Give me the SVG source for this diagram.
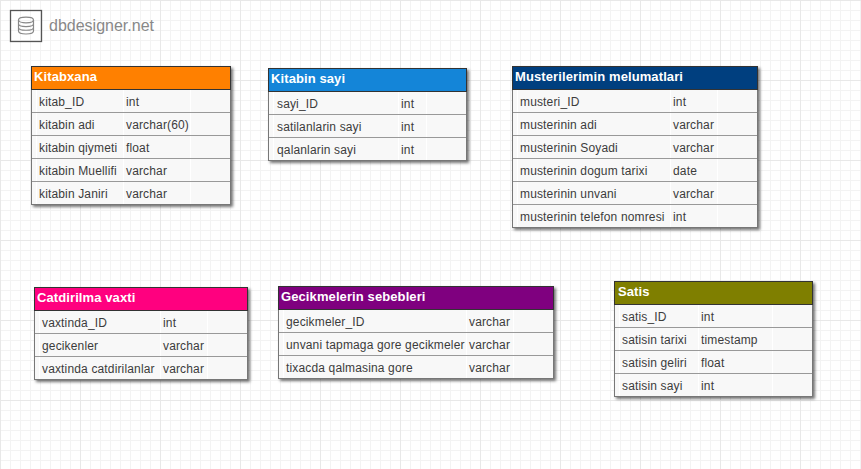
<svg xmlns="http://www.w3.org/2000/svg" width="861" height="469" viewBox="0 0 861 469">
<style>
.t{fill:#f8f8f8;stroke:#777;stroke-width:1;filter:url(#s)}
.h{stroke:#333;stroke-width:1}
.r{stroke:#999;stroke-width:1;fill:none}
.v{stroke:#fff;stroke-width:1;fill:none}
.n{font:bold 13px "Liberation Sans",Arial,sans-serif;fill:#fff;letter-spacing:.1px}
.c{font:12px "Liberation Sans",Arial,sans-serif;fill:#3c3c3c;letter-spacing:.15px}
</style>
<defs>
<pattern id="g1" width="10" height="10" patternUnits="userSpaceOnUse"><path d="M0.5 0V10M0 0.5H10" fill="none" stroke="#f3f3f3"/></pattern>
<pattern id="g2" width="80" height="80" patternUnits="userSpaceOnUse"><path d="M0.5 0V80M0 0.5H80" fill="none" stroke="#e8e8e8"/></pattern>
<filter id="s" x="-5%" y="-5%" width="110%" height="110%"><feDropShadow dx="2" dy="2" stdDeviation="1.500" flood-color="#000" flood-opacity=".55"/></filter>
</defs>
<rect width="861" height="469" fill="#fff"/>
<rect width="861" height="469" fill="url(#g1)"/>
<rect width="861" height="469" fill="url(#g2)"/>
<g id="logo">
<rect x="10.500" y="10.500" width="31" height="31" fill="none" stroke="#555" stroke-width="1.300"/>
<g fill="none" stroke="#888" stroke-width="1.200"><ellipse cx="26" cy="20" rx="7.500" ry="2.800"/><path d="M18.500 20V31C18.500 35 33.500 35 33.500 31V20M18.500 23.700C18.500 27.500 33.500 27.500 33.500 23.700M18.500 27.400C18.500 31.200 33.500 31.200 33.500 27.400"/></g>
<text x="49" y="31" font-family="Liberation Sans,Arial,sans-serif" font-size="16" fill="#888">dbdesigner.net</text>
</g>
<g id="connectors"/>
<g id="kitabxana">
<rect class="t" x="31.500" y="66.500" width="199" height="138"/>
<path class="v" d="M36.500 90V204M123.500 90V204M190.500 90V204"/>
<rect class="h" x="31.500" y="66.500" width="199" height="23" fill="#ff8000"/>
<path class="r" d="M32 112.500H230M32 135.500H230M32 158.500H230M32 181.500H230"/>
<text class="n" x="34" y="81">Kitabxana</text>
<text class="c" x="39" y="106">kitab_ID</text><text class="c" x="126" y="106">int</text>
<text class="c" x="39" y="129">kitabin adi</text><text class="c" x="126" y="129">varchar(60)</text>
<text class="c" x="39" y="152">kitabin qiymeti</text><text class="c" x="126" y="152">float</text>
<text class="c" x="39" y="175">kitabin Muellifi</text><text class="c" x="126" y="175">varchar</text>
<text class="c" x="39" y="198">kitabin Janiri</text><text class="c" x="126" y="198">varchar</text>
</g>
<g id="kitabin-sayi">
<rect class="t" x="268.500" y="68.500" width="198" height="92"/>
<path class="v" d="M273.500 92V160M398.500 92V160M426.500 92V160"/>
<rect class="h" x="268.500" y="68.500" width="198" height="23" fill="#1485d8"/>
<path class="r" d="M269 114.500H466M269 137.500H466"/>
<text class="n" x="271" y="83">Kitabin sayi</text>
<text class="c" x="277" y="108">sayi_ID</text><text class="c" x="401" y="108">int</text>
<text class="c" x="277" y="131">satilanlarin sayi</text><text class="c" x="401" y="131">int</text>
<text class="c" x="277" y="154">qalanlarin sayi</text><text class="c" x="401" y="154">int</text>
</g>
<g id="musterilerimin-melumatlari">
<rect class="t" x="512.500" y="66.500" width="245" height="161"/>
<path class="v" d="M517.500 90V227M670.500 90V227M717.500 90V227"/>
<rect class="h" x="512.500" y="66.500" width="245" height="23" fill="#003f7f"/>
<path class="r" d="M513 112.500H757M513 135.500H757M513 158.500H757M513 181.500H757M513 204.500H757"/>
<text class="n" x="515" y="81">Musterilerimin melumatlari</text>
<text class="c" x="520" y="106">musteri_ID</text><text class="c" x="673" y="106">int</text>
<text class="c" x="520" y="129">musterinin adi</text><text class="c" x="673" y="129">varchar</text>
<text class="c" x="520" y="152">musterinin Soyadi</text><text class="c" x="673" y="152">varchar</text>
<text class="c" x="520" y="175">musterinin dogum tarixi</text><text class="c" x="673" y="175">date</text>
<text class="c" x="520" y="198">musterinin unvani</text><text class="c" x="673" y="198">varchar</text>
<text class="c" x="520" y="221">musterinin telefon nomresi</text><text class="c" x="673" y="221">int</text>
</g>
<g id="catdirilma-vaxti">
<rect class="t" x="34.500" y="287.500" width="213" height="92"/>
<path class="v" d="M39.500 311V379M160.500 311V379M207.500 311V379"/>
<rect class="h" x="34.500" y="287.500" width="213" height="23" fill="#ff007f"/>
<path class="r" d="M35 333.500H247M35 356.500H247"/>
<text class="n" x="37" y="302">Catdirilma vaxti</text>
<text class="c" x="42" y="327">vaxtinda_ID</text><text class="c" x="163" y="327">int</text>
<text class="c" x="42" y="350">gecikenler</text><text class="c" x="163" y="350">varchar</text>
<text class="c" x="42" y="373">vaxtinda catdirilanlar</text><text class="c" x="163" y="373">varchar</text>
</g>
<g id="gecikmelerin-sebebleri">
<rect class="t" x="278.500" y="286.500" width="275" height="92"/>
<path class="v" d="M283.500 310V378M466.500 310V378M513.500 310V378"/>
<rect class="h" x="278.500" y="286.500" width="275" height="23" fill="#7f007f"/>
<path class="r" d="M279 332.500H553M279 355.500H553"/>
<text class="n" x="281" y="301">Gecikmelerin sebebleri</text>
<text class="c" x="286" y="326">gecikmeler_ID</text><text class="c" x="469" y="326">varchar</text>
<text class="c" x="286" y="349">unvani tapmaga gore gecikmeler</text><text class="c" x="469" y="349">varchar</text>
<text class="c" x="286" y="372">tixacda qalmasina gore</text><text class="c" x="469" y="372">varchar</text>
</g>
<g id="satis">
<rect class="t" x="614.500" y="281.500" width="198" height="115"/>
<path class="v" d="M619.500 305V396M698.500 305V396M772.500 305V396"/>
<rect class="h" x="614.500" y="281.500" width="198" height="23" fill="#7f7f00"/>
<path class="r" d="M615 327.500H812M615 350.500H812M615 373.500H812"/>
<text class="n" x="618" y="296">Satis</text>
<text class="c" x="622" y="321">satis_ID</text><text class="c" x="701" y="321">int</text>
<text class="c" x="622" y="344">satisin tarixi</text><text class="c" x="701" y="344">timestamp</text>
<text class="c" x="622" y="367">satisin geliri</text><text class="c" x="701" y="367">float</text>
<text class="c" x="622" y="390">satisin sayi</text><text class="c" x="701" y="390">int</text>
</g>
</svg>
